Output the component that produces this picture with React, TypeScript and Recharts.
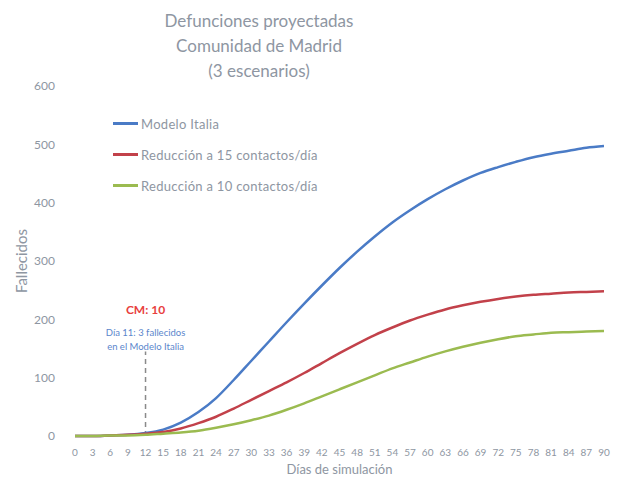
import { LineChart, Line, XAxis, YAxis, ReferenceLine, ReferenceDot } from 'recharts';

const days = [0, 3, 6, 9, 12, 15, 18, 21, 24, 27, 30, 33, 36, 39, 42, 45, 48, 51, 54, 57, 60, 63, 66, 69, 72, 75, 78, 81, 84, 87, 90];
const modeloItalia = [0, 0, 1, 2, 5, 11, 23, 41, 65, 96, 129, 162, 195, 227, 258, 288, 316, 342, 366, 387, 406, 423, 438, 451, 461, 470, 478, 484, 489, 494, 497];
const reduccion15 = [0, 0, 1, 2, 4, 7, 13, 22, 33, 47, 62, 77, 92, 108, 125, 142, 158, 173, 186, 198, 208, 217, 224, 230, 235, 239, 242, 244, 246, 247, 248];
const reduccion10 = [0, 0, 1, 1, 2, 4, 6, 9, 14, 20, 27, 35, 45, 56, 68, 80, 92, 104, 116, 126, 136, 145, 153, 160, 166, 171, 174, 177, 178, 179, 180];
const yTicks = [0, 100, 200, 300, 400, 500, 600];
const titleLines = ['Defunciones proyectadas', 'Comunidad de Madrid', '(3 escenarios)'];

const series = [
  { key: 'italia', name: 'Modelo Italia', color: '#4a7bc6' },
  { key: 'r15', name: 'Reducción a 15 contactos/día', color: '#c2414a' },
  { key: 'r10', name: 'Reducción a 10 contactos/día', color: '#9bbb50' },
];

const data = days.map((d, i) => ({
  dia: d,
  italia: modeloItalia[i],
  r15: reduccion15[i],
  r10: reduccion10[i],
}));

const FONT = 'Lato, "Open Sans", sans-serif';
const GREY = '#8e96a2';

export default function App() {
  return (
    <div style={{ position: 'absolute', left: 0, top: 0, width: 620, height: 477, background: '#fff' }}>
      <LineChart width={620} height={477} data={data} margin={{ top: 86, right: 16, bottom: 0, left: 0 }}>
        <XAxis
          dataKey="dia"
          type="number"
          domain={[0, 90]}
          ticks={days}
          interval={0}
          axisLine={false}
          tickLine={false}
          tickSize={0}
          tickMargin={13}
          height={41}
          tick={{ fontSize: 10, fill: GREY, fontFamily: FONT }}
          label={{ value: 'Días de simulación', position: 'insideBottom', offset: 3, fill: GREY, fontSize: 13, fontFamily: FONT }}
        />
        <YAxis
          domain={[0, 600]}
          ticks={yTicks}
          axisLine={false}
          tickLine={false}
          tickSize={0}
          tickMargin={20}
          width={75}
          tick={{ fontSize: 12, fill: GREY, fontFamily: FONT }}
          label={{ value: 'Fallecidos', angle: -90, position: 'insideLeft', offset: 22, fill: GREY, fontSize: 15, fontFamily: FONT, style: { textAnchor: 'middle' } }}
        />
        <ReferenceLine
          segment={[{ x: 12, y: 0 }, { x: 12, y: 145 }]}
          stroke="#8a8a8a"
          strokeWidth={1.5}
          strokeDasharray="5 4"
        />
        <ReferenceDot
          x={12}
          y={216}
          r={0}
          label={{ value: 'CM: 10', position: 'center', fill: '#e8403e', fontSize: 12, fontWeight: 'bold', fontFamily: FONT }}
        />
        <ReferenceDot
          x={12}
          y={178}
          r={0}
          label={{ value: 'Día 11: 3 fallecidos', position: 'center', fill: '#5b86cc', fontSize: 9.5, fontFamily: FONT }}
        />
        <ReferenceDot
          x={12}
          y={154}
          r={0}
          label={{ value: 'en el Modelo Italia', position: 'center', fill: '#5b86cc', fontSize: 9.5, fontFamily: FONT }}
        />
        {series.map((s) => (
          <Line
            key={s.key}
            type="monotone"
            dataKey={s.key}
            name={s.name}
            stroke={s.color}
            strokeWidth={2.5}
            dot={false}
            isAnimationActive={false}
          />
        ))}
      </LineChart>
      <div
        style={{
          position: 'absolute',
          left: 159,
          top: 8,
          width: 200,
          textAlign: 'center',
          fontFamily: FONT,
          fontSize: 17,
          lineHeight: '25px',
          color: GREY,
        }}
      >
        {titleLines.map((t) => (
          <div key={t}>{t}</div>
        ))}
      </div>
      <div style={{ position: 'absolute', left: 113, top: 108, fontFamily: FONT }}>
        {series.map((s) => (
          <div key={s.key} style={{ display: 'flex', alignItems: 'center', height: 31 }}>
            <div style={{ width: 25, height: 3, background: s.color, marginRight: 3 }} />
            <span style={{ fontSize: 13, color: GREY, letterSpacing: 0.3 }}>{s.name}</span>
          </div>
        ))}
      </div>
    </div>
  );
}
